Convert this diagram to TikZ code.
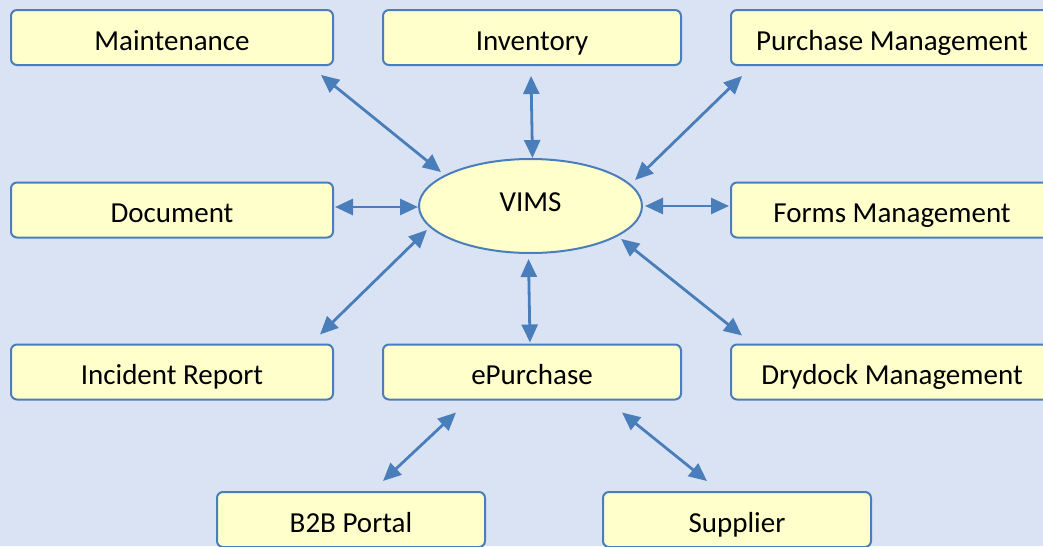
\documentclass[tikz,border=0pt]{standalone}
\usepackage{fontspec}
\setmainfont{Carlito}
\usepackage{tikz}
\usetikzlibrary{arrows.meta, shapes.geometric}

\definecolor{bgblue}{HTML}{DAE3F3}
\definecolor{boxfill}{HTML}{FFFFCC}
\definecolor{linkblue}{HTML}{4A7EBB}

\begin{document}
\begin{tikzpicture}[x=1pt, y=-1pt,
    box/.style={draw=linkblue, fill=boxfill, line width=2pt, rounded corners=6pt,
        minimum height=55pt, inner sep=0pt, text height=29pt, text depth=4pt,
        font=\fontsize{29}{34}\selectfont},
    hub/.style={ellipse, draw=linkblue, fill=boxfill, line width=2pt,
        minimum width=223pt, minimum height=94pt, inner sep=0pt,
        text height=20pt, text depth=8.6pt, font=\fontsize{29}{34}\selectfont},
    link/.style={draw=linkblue, line width=2.8pt,
        {Triangle[length=18pt, width=16pt]}-{Triangle[length=18pt, width=16pt]}}]

%% Frame
\clip (0, 0) rectangle (1043, 546);
\fill [bgblue] (0, 0) rectangle (1043, 546);

%% Define the nodes
% top row
\node [box, minimum width=322pt] (maint) at (172, 37.5) {Maintenance};
\node [box, minimum width=298pt] (inv) at (532, 37.5) {Inventory};
\node [box, minimum width=322pt] (purch) at (892, 37.5) {Purchase Management};

% middle row
\node [box, minimum width=322pt] (doc) at (172, 210) {Document};
\node [hub] (vims) at (530.5, 206) {VIMS};
\node [box, minimum width=322pt] (forms) at (892, 210) {Forms Management};

% lower row
\node [box, minimum width=322pt] (incid) at (172, 372) {Incident Report};
\node [box, minimum width=298pt] (epur) at (532, 372) {ePurchase};
\node [box, minimum width=322pt] (dry) at (892, 372) {Drydock Management};

% bottom row
\node [box, minimum width=268pt] (b2b) at (351, 519.5) {B2B Portal};
\node [box, minimum width=268pt] (supp) at (737, 519.5) {Supplier};

%% Draw the links
\draw [link] ([shift={(-13,9)}]maint.south east) -- ([shift={(-10,0)}]vims.north west);
\draw [link] ([shift={(-1,10)}]inv.south) -- ([shift={(2,0)}]vims.north);
\draw [link] ([shift={(12,10)}]purch.south west) -- ([shift={(25,8)}]vims.north east);

\draw [link] ([shift={(1,-3)}]doc.east) -- ([shift={(0,1)}]vims.west);
\draw [link] ([shift={(-1,-4)}]forms.west) -- ([shift={(2,0)}]vims.east);

\draw [link] ([shift={(-14,-9)}]incid.north east) -- ([shift={(-24,-10)}]vims.south west);
\draw [link] ([shift={(-2,-1)}]epur.north) -- ([shift={(-2,5)}]vims.south);
\draw [link] ([shift={(12,-8)}]dry.north west) -- ([shift={(11,-1)}]vims.south east);

\draw [link] ([shift={(32,-10)}]b2b.north) -- ([shift={(74,12)}]epur.south west);
\draw [link] ([shift={(-30,-10)}]supp.north) -- ([shift={(-60,12)}]epur.south east);

\end{tikzpicture}
\end{document}
